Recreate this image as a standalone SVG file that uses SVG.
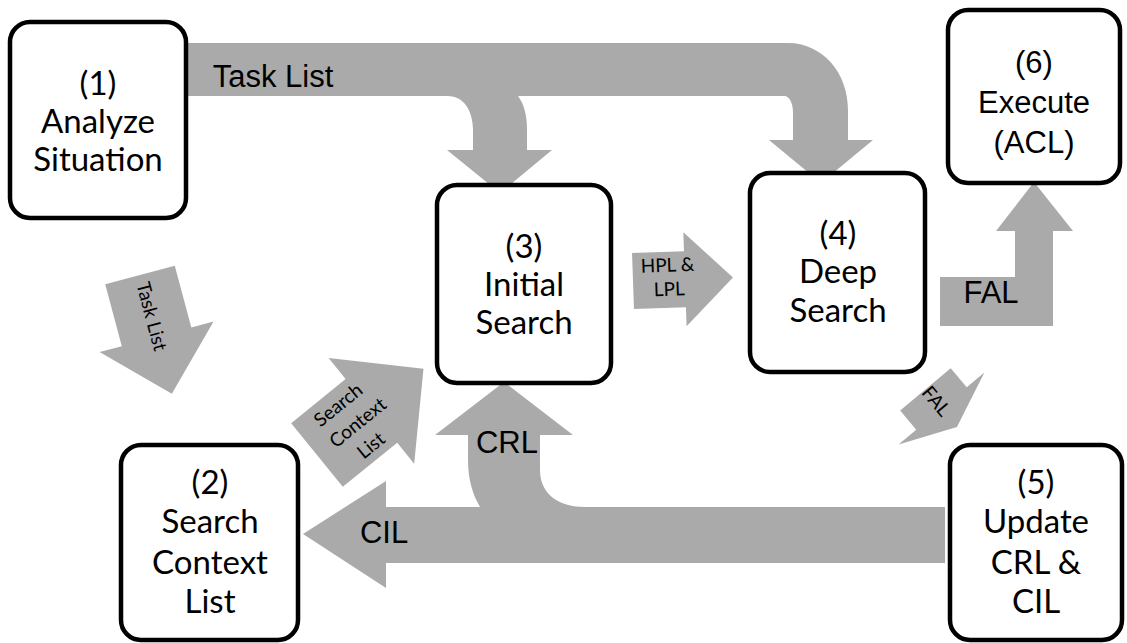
<svg xmlns="http://www.w3.org/2000/svg" width="1127" height="643" viewBox="0 0 1127 643">
<style>
.box{fill:#ffffff;stroke:#000000;stroke-width:4.5}
.arr{fill:#aaaaaa;stroke:none}
.bt{font-family:Lato,"Open Sans",sans-serif;font-size:33px;fill:#000;text-anchor:middle}
.at{font-family:"Liberation Sans",Arial,sans-serif;font-size:31px;fill:#000;text-anchor:middle}
.st{font-family:Lato,"Open Sans",sans-serif;font-size:19px;fill:#000;text-anchor:middle}
</style>
<rect width="1127" height="643" fill="#ffffff"/>
<g id="connectors">
  <path class="arr" d="M186,43 L788,43 C822,43 848,72 848,110 L848,140 L873,140 L821,183 L769,140 L793,140 L793,113 C793,104 790,96 784,96 L518,96 C524,104 527,115 527,130 L527,150 L552,150 L500,193 L447,150 L473,150 L473,130 C473,110 463,96 448,96 L186,96 Z"/>
  <text class="at" x="273" y="87">Task List</text>
  <g transform="translate(140,275) rotate(75)">
    <polygon class="arr" points="0,-36 64,-36 64,-59 123,0 64,59 64,36 0,36"/>
    <text class="st" x="43" y="6">Task List</text>
  </g>
  <g transform="translate(317,455) rotate(-39)">
    <polygon class="arr" points="0,-41 70,-41 70,-68 137,0 70,68 70,41 0,41"/>
    <text class="st" x="48" y="-19">Search</text>
    <text class="st" x="52" y="7">Context</text>
    <text class="st" x="48" y="33">List</text>
  </g>
  <g transform="translate(633,281) rotate(-2)">
    <polygon class="arr" points="0,-28 52,-28 52,-47 100,0 52,47 52,28 0,28"/>
    <text class="st" x="35" y="-8">HPL &amp;</text>
    <text class="st" x="36" y="16">LPL</text>
  </g>
  <path class="arr" d="M940,277 L1015,277 L1015,231 L996,231 L1034,182 L1073,231 L1053,231 L1053,326 L940,326 Z"/>
  <text class="at" x="991" y="303">FAL</text>
  <g transform="translate(941.5,408.5) rotate(50)">
    <polygon class="arr" points="-25,-33 0,-33 0,-56 24,0 0,56 0,33 -25,33"/>
    <text class="st" x="-9" y="6">FAL</text>
  </g>
  <path class="arr" d="M945,507 L585,507 C560,507 540,495 540,470 L540,435 L573,435 L504,382 L435,435 L468,435 L468,460 C468,480 473,495 480,507 L386,507 L386,481 L303,534 L386,588 L386,563 L945,563 Z"/>
  <text class="at" x="507" y="453">CRL</text>
  <text class="at" x="384" y="543">CIL</text>
</g>
<g id="node1">
  <rect class="box" x="10" y="22" width="176" height="196" rx="20"/>
  <text class="bt" x="98" y="95">(1)</text>
  <text class="bt" x="98" y="133">Analyze</text>
  <text class="bt" x="98" y="171">Situation</text>
</g>
<g id="node2">
  <rect class="box" x="121" y="445" width="177" height="195" rx="20"/>
  <text class="bt" x="210" y="494">(2)</text>
  <text class="bt" x="210" y="533">Search</text>
  <text class="bt" x="210" y="574">Context</text>
  <text class="bt" x="210" y="613">List</text>
</g>
<g id="node3">
  <rect class="box" x="437" y="185" width="174" height="198" rx="20"/>
  <text class="bt" x="524" y="258">(3)</text>
  <text class="bt" x="524" y="296">Initial</text>
  <text class="bt" x="524" y="334">Search</text>
</g>
<g id="node4">
  <rect class="box" x="750" y="173" width="175" height="199" rx="20"/>
  <text class="bt" x="838" y="245">(4)</text>
  <text class="bt" x="838" y="283">Deep</text>
  <text class="bt" x="838" y="322">Search</text>
</g>
<g id="node5">
  <rect class="box" x="950" y="445" width="172" height="195" rx="20"/>
  <text class="bt" x="1036" y="494">(5)</text>
  <text class="bt" x="1036" y="533">Update</text>
  <text class="bt" x="1036" y="574">CRL &amp;</text>
  <text class="bt" x="1036" y="613">CIL</text>
</g>
<g id="node6">
  <rect class="box" x="948" y="10" width="172" height="173" rx="20"/>
  <text class="at" x="1034" y="73">(6)</text>
  <text class="at" x="1034" y="113">Execute</text>
  <text class="at" x="1034" y="153">(ACL)</text>
</g>
</svg>
